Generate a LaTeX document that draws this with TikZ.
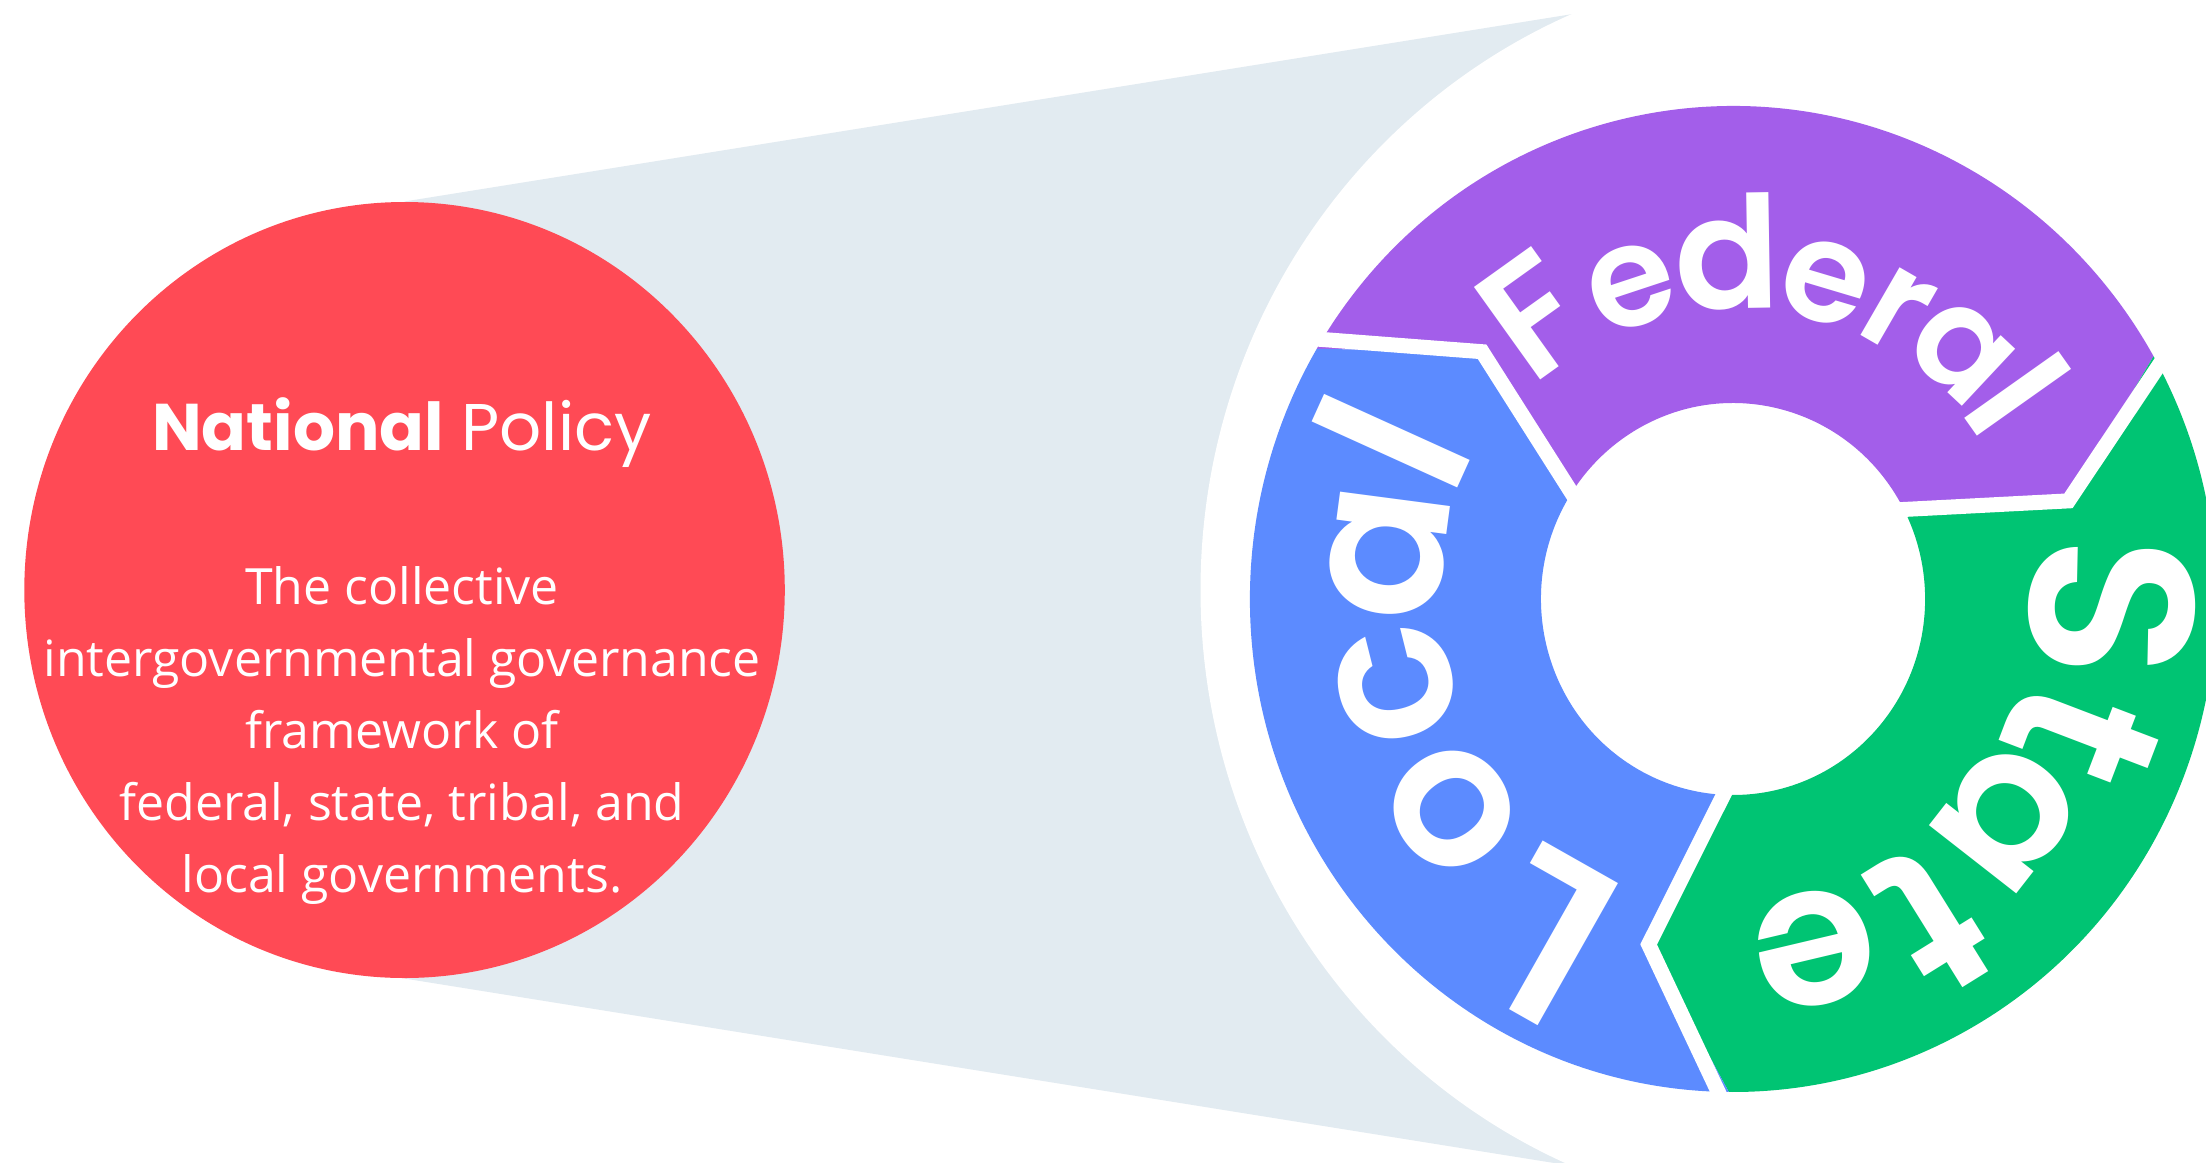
\documentclass[tikz,border=0pt]{standalone}
\usepackage{fontspec}
\setmainfont{Open Sans}
\newfontfamily\pop{Poppins}
\newfontfamily\popsb{Poppins SemiBold}
\newcommand\ringfont[1]{\popsb\fontsize{#1}{#1}\selectfont}
\definecolor{redc}{RGB}{255,74,85}
\definecolor{conec}{RGB}{226,235,241}
\definecolor{purc}{RGB}{163,94,234}
\definecolor{bluec}{RGB}{92,139,255}
\definecolor{greenc}{RGB}{0,196,115}
\tikzset{
  bodytext/.style={anchor=base, text=white, inner sep=0pt, font=\fontsize{50}{60}\selectfont},
  gapline/.style={white, line width=15pt, line join=miter},
  ringletter/.style={anchor=base, text=white, inner sep=0pt, rotate=#1-90}
}
\begin{document}
\begin{tikzpicture}[x=0.98pt,y=1pt]
\useasboundingbox (0,0) rectangle (2251.02,-1162);
\fill[white] (0,0) rectangle (2251.02,-1162);
% cone
\fill[conec] (412.8,-201.5) -- (1605,-14) -- (1852,-590) -- (1605,-1166) -- (412.8,-978.5) -- cycle;
% white halo
\fill[white] (1852,-590) circle[radius=627];
% red circle
\fill[redc] (412.8,-590) circle[radius=388];
% donut
\begin{scope}[shift={(1768.4,-599)}]
\fill[purc] (149.5:493) arc[start angle=149.5,end angle=29.5,radius=493] -- (16:356) -- (29.5:196)
  arc[start angle=29.5,end angle=149.5,radius=196] -- (136:356) -- cycle;
\fill[greenc] (29.5:493) arc[start angle=29.5,end angle=-90.5,radius=493] -- (-104:356) -- (-90.5:196)
  arc[start angle=-90.5,end angle=29.5,radius=196] -- (16:356) -- cycle;
\fill[bluec] (269.5:493) arc[start angle=269.5,end angle=149.5,radius=493] -- (136:356) -- (149.5:196)
  arc[start angle=149.5,end angle=269.5,radius=196] -- (256:356) -- cycle;
\draw[gapline] (149.5:515) -- (136:356) -- (149.5:180);
\draw[gapline] (29.5:515) -- (16:356) -- (29.5:180);
\draw[gapline] (269.5:515) -- (256:356) -- (269.5:180);
% Federal
\node[ringletter=125.6, font=\ringfont{163}] (fF) at (125.6:292) {F};
\node[ringletter=108.3, font=\ringfont{141}] (fe1) at (108.3:290) {e};
\node[ringletter=90.9, font=\ringfont{156}] (fd) at (90.9:290) {d};
\node[ringletter=73.4, font=\ringfont{141}] (fe2) at (73.4:291) {e};
\node[ringletter=60.0, font=\ringfont{141}] (fr) at (60.0:294) {r};
\node[ringletter=46.9, font=\ringfont{141}] (fa) at (46.9:300) {a};
\node[ringletter=35.3, font=\ringfont{156}] (fl) at (35.3:298) {l};
% State
\node[ringletter=-1.2, font=\ringfont{234}] (sS) at (-1.2:303) {S};
\node[ringletter=-20.9, font=\ringfont{216}] (st1) at (-20.9:304) {t};
\node[ringletter=-38.0, font=\ringfont{200}] (sa) at (-38.0:298) {a};
\node[ringletter=-58.1, font=\ringfont{216}] (st2) at (-58.1:304) {t};
\node[ringletter=-76.7, font=\ringfont{200}] (se) at (-76.7:304) {e};
% Local
\node[ringletter=240.5, font=\ringfont{234}] (lL) at (240.5:306) {L};
\node[ringletter=216.3, font=\ringfont{200}] (lo) at (216.3:299) {o};
\node[ringletter=194.1, font=\ringfont{200}] (lc) at (194.1:298) {c};
\node[ringletter=172.5, font=\ringfont{200}] (la) at (172.5:298) {a};
\node[ringletter=155.6, font=\ringfont{216}] (ll) at (155.6:302) {l};
\end{scope}
% texts
\node[anchor=base, text=white, inner sep=0pt, font=\pop\fontsize{66}{66}\selectfont] (title) at (410.2,-450) {\textbf{National} Policy};
\node[bodytext] (l1) at (410.2,-604) {The collective};
\node[bodytext] (l2) at (410.2,-676) {intergovernmental governance};
\node[bodytext] (l3) at (410.2,-748) {framework of};
\node[bodytext] (l4) at (410.2,-820) {federal, state, tribal, and};
\node[bodytext] (l5) at (410.2,-892) {local governments.};
\end{tikzpicture}
\end{document}
